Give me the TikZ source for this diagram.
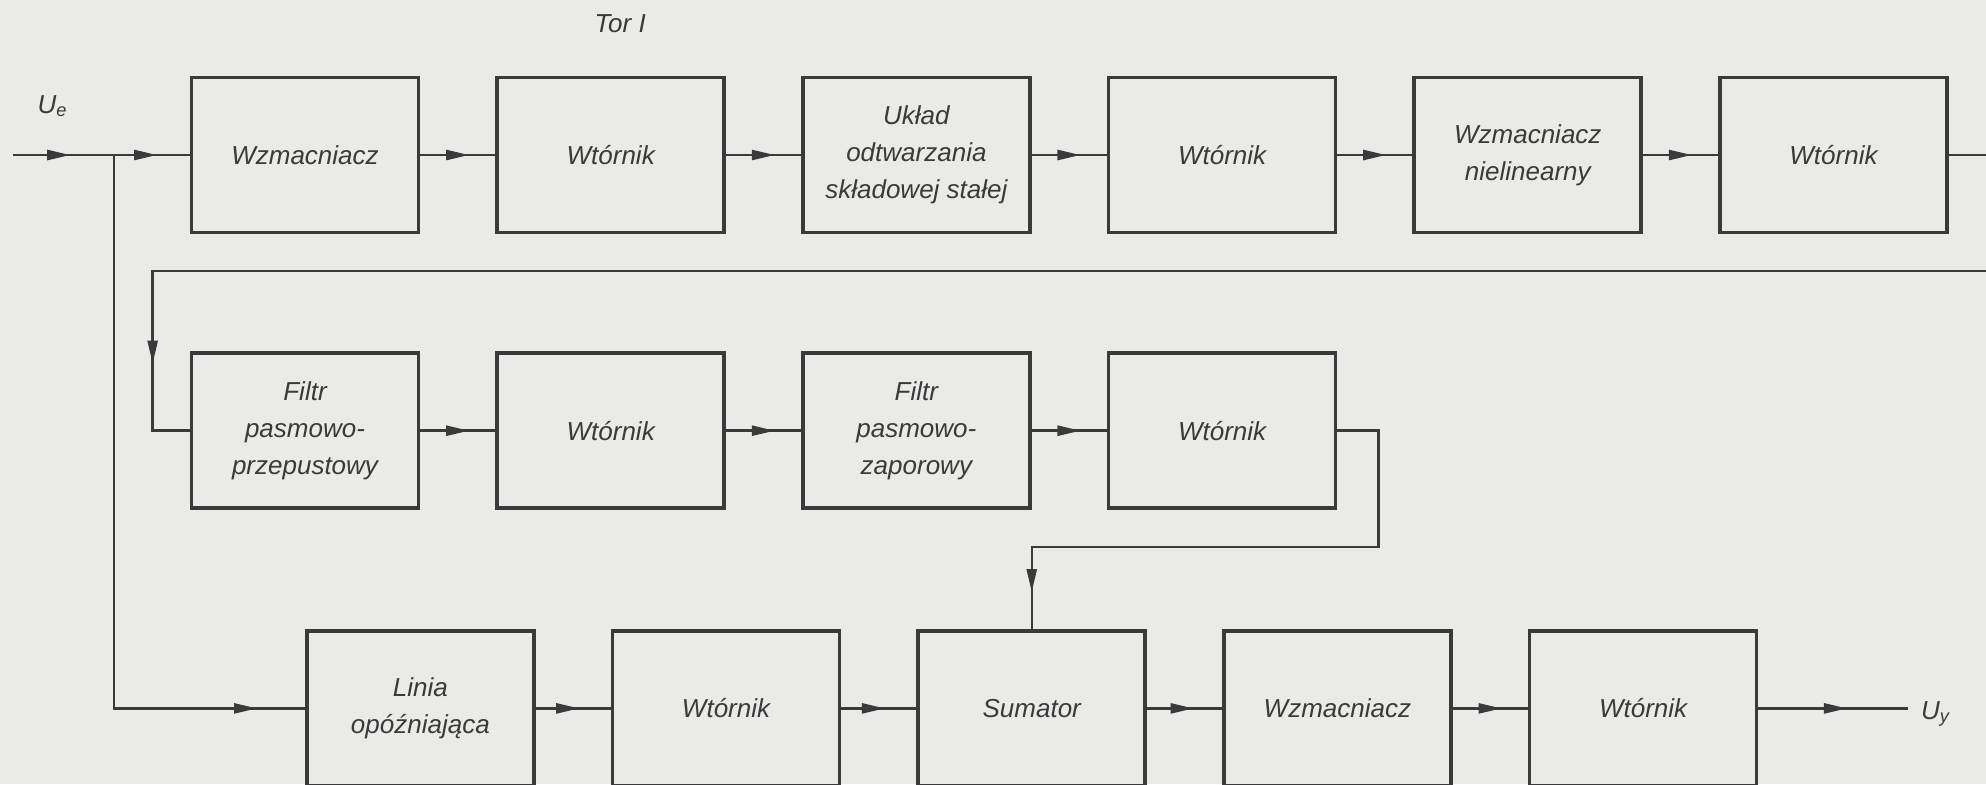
\documentclass[tikz,border=0pt]{standalone}
\usepackage{fontspec}
\setmainfont{Liberation Sans}
\usetikzlibrary{arrows.meta,positioning,decorations.markings}

\definecolor{papier}{RGB}{234,234,232}
\definecolor{tusz}{RGB}{58,58,58}

\begin{document}
\begin{tikzpicture}[
    font=\fontsize{7.4}{10.6}\selectfont\itshape,
    text=tusz,
    blok/.style={draw=tusz, line width=1.05pt, align=center,
                 minimum width=2.27cm, minimum height=1.55cm, inner sep=2pt},
    przewod/.style={color=tusz, line width=0.7pt},
    sygnal/.style={przewod, postaction={decorate},
                   decoration={markings, mark=at position #1 with
                     {\arrow{Triangle[length=2.3mm,width=1mm]}}}},
    sygnal/.default=0.65,
    node distance=0.75cm
  ]
    \fill[papier] (0,0) rectangle (19.86,-7.84);
    \useasboundingbox (0,0) rectangle (19.86,-7.84);

    % tor glowny
    \node[blok] (wzm1) at (3.05,-1.55) {Wzmacniacz};
    \node[blok, right=of wzm1] (wtr1) {Wtórnik};
    \node[blok, right=of wtr1] (odtw) {Układ\\odtwarzania\\składowej stałej};
    \node[blok, right=of odtw] (wtr2) {Wtórnik};
    \node[blok, right=of wtr2] (wzmnl) {Wzmacniacz\\nielinearny};
    \node[blok, right=of wzmnl] (wtr3) {Wtórnik};

    % filtry
    \node[blok, below=1.17cm of wzm1] (fpp) {Filtr\\pasmowo-\\przepustowy};
    \node[blok, right=of fpp] (wtr4) {Wtórnik};
    \node[blok, right=of wtr4] (fpz) {Filtr\\pasmowo-\\zaporowy};
    \node[blok, right=of fpz] (wtr5) {Wtórnik};

    % linia opozniajaca i wyjscie
    \node[blok, below=1.19cm of fpp.south, anchor=north west] (linia) {Linia\\opóźniająca};
    \node[blok, right=of linia] (wtr6) {Wtórnik};
    \node[blok, right=of wtr6] (sum) {Sumator};
    \node[blok, right=of sum] (wzm2) {Wzmacniacz};
    \node[blok, right=of wzm2] (wtr7) {Wtórnik};

    \coordinate (wej) at (0.125,-1.55);
    \coordinate (rozg) at (1.138,-1.55);
    \coordinate (wyj1) at (19.86,-1.55);
    \coordinate (wej2) at (19.86,-2.71);
    \coordinate (wyj) at ([xshift=1.5cm]wtr7.east);

    \node[anchor=base west, inner sep=0] (ue) at (0.37,-1.13) {U\textsubscript{e}};
    \node[anchor=base west, inner sep=0] (uy) at ([xshift=1.2mm,yshift=-1.1mm]wyj) {U\textsubscript{y}};
    \node[anchor=base west, inner sep=0] (tor) at (5.94,-0.32) {Tor I};

    \draw[sygnal=0.57] (wej) -- (rozg);
    \draw[sygnal=0.57] (rozg) -- (wzm1);
    \draw[sygnal] (wzm1) -- (wtr1);
    \draw[sygnal] (wtr1) -- (odtw);
    \draw[sygnal] (odtw) -- (wtr2);
    \draw[sygnal] (wtr2) -- (wzmnl);
    \draw[sygnal] (wzmnl) -- (wtr3);
    \draw[przewod] (wtr3) -- (wyj1);

    \draw[sygnal=-1.04cm] (wej2) -| ([xshift=-3.7mm]fpp.west) -- (fpp);
    \draw[sygnal] (fpp) -- (wtr4);
    \draw[sygnal] (wtr4) -- (fpz);
    \draw[sygnal] (fpz) -- (wtr5);
    \draw[sygnal=-0.37cm] (wtr5.east) -- ++(0.41,0) |- ([yshift=8.2mm]sum.north) -- (sum);

    \draw[sygnal=-0.48cm] (rozg) |- (linia);
    \draw[sygnal=0.58] (linia) -- (wtr6);
    \draw[sygnal=0.58] (wtr6) -- (sum);
    \draw[sygnal=0.62] (sum) -- (wzm2);
    \draw[sygnal] (wzm2) -- (wtr7);
    \draw[sygnal=0.59] (wtr7) -- (wyj);
\end{tikzpicture}
\end{document}
